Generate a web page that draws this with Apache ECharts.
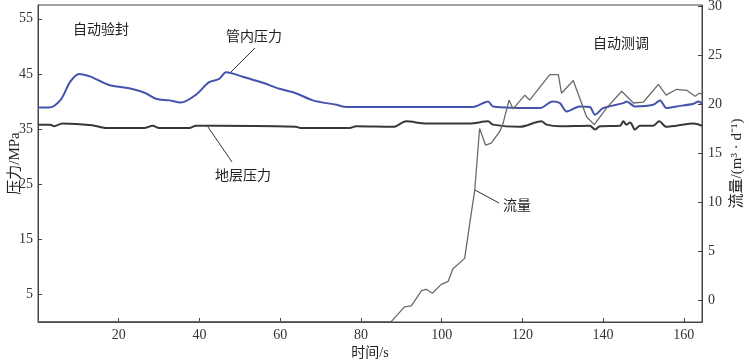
<!DOCTYPE html>
<html>
<head>
<meta charset="utf-8">
<script src="https://cdn.jsdelivr.net/npm/echarts@6/dist/echarts.min.js"></script>
<style>
  html, body { margin: 0; padding: 0; background: #fff; }
  #chart { width: 749px; height: 364px; }
</style>
</head>
<body>
<div id="chart"></div>
<script>
// 管内压力 (MPa)
const pipeTime = [0, 2.7, 5.6, 8, 10.2, 13, 17.6, 22.6, 26.7, 29.2, 32.5, 35.4, 39.1, 42.4, 44.9, 46.6, 50.7, 55.7, 59.8, 63.9, 68.1, 73.9, 76.4, 90, 107.7, 111.5, 112.7, 124.3, 127.5, 129.3, 131, 134.2, 136.7, 138, 140, 145, 145.8, 147.9, 152.4, 154.1, 155.7, 158.2, 162.4, 163.6, 164.5];
const pipeValues = [38.9, 38.9, 40.3, 43.6, 45.0, 44.5, 43.0, 42.4, 41.5, 40.5, 40.2, 39.8, 41.2, 43.5, 44.1, 45.3, 44.5, 43.4, 42.3, 41.5, 40.2, 39.4, 39.0, 39.0, 39.0, 40.0, 39.1, 38.8, 40.0, 39.7, 38.2, 39.1, 39.0, 37.6, 38.8, 39.7, 40.0, 39.1, 39.4, 40.2, 38.8, 39.1, 39.6, 40.0, 39.6];

// 地层压力 (MPa)
const formTime = [0, 3, 4, 6, 13.4, 16.8, 26.3, 28.4, 30, 37.5, 39.1, 44, 63.9, 65, 77.2, 78.8, 88, 91.2, 96.2, 106.9, 111.5, 112.7, 119.4, 124.7, 126, 129.3, 136.7, 138, 139.2, 144.2, 145, 145.8, 146.7, 147.9, 149.1, 152.4, 153.9, 155.7, 158.2, 162.4, 164.5];
const formValues = [35.8, 35.8, 35.5, 36.0, 35.7, 35.2, 35.2, 35.6, 35.2, 35.2, 35.6, 35.6, 35.4, 35.2, 35.2, 35.5, 35.4, 36.4, 36.0, 36.0, 36.4, 35.8, 35.4, 36.4, 35.8, 35.5, 35.6, 34.9, 35.5, 35.6, 36.4, 35.8, 36.2, 34.9, 35.6, 35.6, 36.4, 35.4, 35.6, 36.0, 35.6];

// 流量 (m3/d)
const flowTime = [0, 87.5, 90.8, 92.5, 95, 96.2, 97.7, 99.9, 101.6, 102.8, 105.7, 106.9, 108.2, 109.4, 110.9, 112.3, 114.4, 115.2, 116.7, 117.7, 120.6, 121.8, 126.8, 128.9, 129.7, 132.6, 135.9, 137.8, 140.9, 144.6, 147.5, 150, 153.7, 155.6, 158.2, 160.7, 162.8, 163.8, 164.5];
const flowValues = [-2.2, -2.2, -0.7, -0.6, 0.95, 1.1, 0.7, 1.6, 1.9, 3.2, 4.25, 7.65, 11.2, 17.5, 15.8, 16.0, 17.2, 18.0, 20.4, 19.5, 20.9, 20.4, 23.0, 23.0, 21.1, 22.4, 18.7, 17.9, 19.6, 21.3, 20.1, 20.2, 22.0, 20.9, 21.5, 21.4, 20.8, 21.1, 21.0];

const timeTicks = [20, 40, 60, 80, 100, 120, 140, 160];
const pressureTicks = [5, 15, 25, 35, 45, 55];
const flowTicks = [0, 5, 10, 15, 20, 25, 30];

const zip = (xs, ys) => xs.map((x, i) => [x, ys[i]]);

const FONT = '"Liberation Serif", "Noto Sans CJK SC", serif';
const axisColor = '#444';

const chart = echarts.init(document.getElementById('chart'));

const option = {
  animation: false,
  backgroundColor: '#fff',
  grid: {
    left: 38,
    right: 47,
    top: 5,
    bottom: 42,
    containLabel: false,
    outerBoundsMode: 'none',
    show: true,
    borderColor: axisColor,
    borderWidth: 1
  },
  xAxis: {
    type: 'value',
    min: 0,
    max: 164.5,
    name: '时间/s',
    nameLocation: 'middle',
    nameGap: 24,
    nameMoveOverlap: false,
    nameTextStyle: { fontFamily: FONT, fontSize: 14, color: '#222' },
    axisLine: { lineStyle: { color: axisColor } },
    axisTick: { inside: true, length: 4, customValues: timeTicks, lineStyle: { color: axisColor } },
    axisLabel: { customValues: timeTicks, fontFamily: FONT, fontSize: 14, color: '#333', margin: 6 },
    splitLine: { show: false }
  },
  yAxis: [
    {
      type: 'value',
      min: 0,
      max: 57.5,
      name: '压力/MPa',
      nameLocation: 'middle',
      nameRotate: 90,
      nameGap: 15,
      nameMoveOverlap: false,
      nameTextStyle: { fontFamily: FONT, fontSize: 15, color: '#222' },
      axisLine: { show: true, lineStyle: { color: axisColor } },
      axisTick: { show: true, inside: true, length: 4, customValues: pressureTicks, lineStyle: { color: axisColor } },
      axisLabel: { customValues: pressureTicks, fontFamily: FONT, fontSize: 14, color: '#333', margin: 5 },
      splitLine: { show: false }
    },
    {
      type: 'value',
      min: -2.24,
      max: 30.1,
      position: 'right',
      name: '流量/(m³ · d⁻¹)',
      nameLocation: 'middle',
      nameRotate: 90,
      nameGap: 28,
      nameMoveOverlap: false,
      nameTextStyle: { fontFamily: FONT, fontSize: 15, color: '#222' },
      axisLine: { show: true, lineStyle: { color: axisColor } },
      axisTick: { show: true, inside: true, length: 4, customValues: flowTicks, lineStyle: { color: axisColor } },
      axisLabel: { customValues: flowTicks, fontFamily: FONT, fontSize: 14, color: '#333', margin: 6 },
      splitLine: { show: false }
    }
  ],
  series: [
    {
      name: '管内压力',
      type: 'line',
      yAxisIndex: 0,
      data: zip(pipeTime, pipeValues),
      showSymbol: false,
      smooth: 0.3,
      lineStyle: { color: '#4553ad', width: 2 },
      z: 3
    },
    {
      name: '地层压力',
      type: 'line',
      yAxisIndex: 0,
      data: zip(formTime, formValues),
      showSymbol: false,
      smooth: 0.3,
      lineStyle: { color: '#383838', width: 2 },
      z: 2
    },
    {
      name: '流量',
      type: 'line',
      yAxisIndex: 1,
      data: zip(flowTime, flowValues),
      showSymbol: false,
      lineStyle: { color: '#6a6a6a', width: 1.3 },
      z: 4
    }
  ],
  graphic: [
    { type: 'text', left: 73, top: 23, style: { text: '自动验封', font: '14px ' + FONT, fill: '#222' } },
    { type: 'text', left: 226, top: 30, style: { text: '管内压力', font: '14px ' + FONT, fill: '#222' } },
    { type: 'line', shape: { x1: 255, y1: 48, x2: 230, y2: 73 }, style: { stroke: '#333', lineWidth: 1 } },
    { type: 'text', left: 593, top: 37, style: { text: '自动测调', font: '14px ' + FONT, fill: '#222' } },
    { type: 'text', left: 215, top: 169, style: { text: '地层压力', font: '14px ' + FONT, fill: '#222' } },
    { type: 'line', shape: { x1: 208, y1: 127, x2: 232, y2: 162 }, style: { stroke: '#333', lineWidth: 1 } },
    { type: 'text', left: 503, top: 199, style: { text: '流量', font: '14px ' + FONT, fill: '#222' } },
    { type: 'line', shape: { x1: 475, y1: 190, x2: 499, y2: 203 }, style: { stroke: '#333', lineWidth: 1 } }
  ]
};

chart.setOption(option);
</script>
</body>
</html>
